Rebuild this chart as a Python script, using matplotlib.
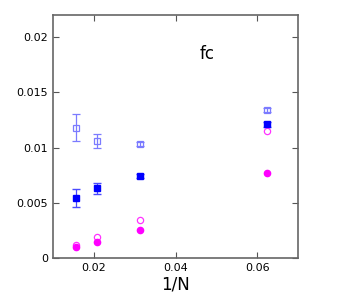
#!/usr/bin/env python3
import matplotlib
matplotlib.use("Agg")
import matplotlib.pyplot as plt

invN = [1/64, 1/48, 1/32, 1/16]

open_sq = [0.0118, 0.0106, 0.0103, 0.0134]
open_sq_err = [0.0012, 0.0006, 0.0002, 0.0002]
fill_sq = [0.00545, 0.0063, 0.0074, 0.0121]
fill_sq_err = [0.0008, 0.0005, 0.0002, 0.0002]
open_ci = [0.0012, 0.0019, 0.0034, 0.0115]
fill_ci = [0.0010, 0.00145, 0.0025, 0.0077]

fig = plt.figure(figsize=(3.51, 3.0), dpi=100)
ax = fig.add_axes([53/351, 42/300, 245/351, 243/300])

ax.errorbar(invN, open_sq, yerr=open_sq_err, fmt='s', mfc='none', mec='#7b7bff',
            ecolor='#7b7bff', ms=4, mew=0.9, elinewidth=0.9, capsize=3)
ax.errorbar(invN, fill_sq, yerr=fill_sq_err, fmt='s', color='#0000ff',
            ecolor='#4a4aff', ms=5, elinewidth=0.9, capsize=3)
ax.plot(invN, open_ci, 'o', mfc='none', mec='#ff33ff', ms=4.5, mew=0.9)
ax.plot(invN, fill_ci, 'o', color='#ff00ff', ms=4.5)

ax.set_xlim(0.01, 0.07)
ax.set_ylim(0, 0.022)
ax.set_xticks([0.02, 0.04, 0.06])
ax.set_xticklabels(['0.02', '0.04', '0.06'])
ax.set_yticks([0, 0.005, 0.01, 0.015, 0.02])
ax.set_yticklabels(['0', '0.005', '0.01', '0.015', '0.02'])
ax.tick_params(direction='in', top=True, right=True, labelsize=8, color='#555555', length=4)
for s in ax.spines.values():
    s.set_color('#666666')
    s.set_linewidth(1.2)
ax.set_xlabel('1/N', fontsize=12, labelpad=2)
ax.text(0.6, 0.82, 'fc', transform=ax.transAxes, fontsize=12)

fig.savefig('out.png', dpi=100)
